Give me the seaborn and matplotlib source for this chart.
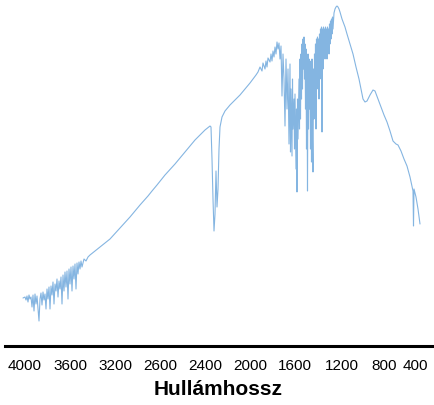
import matplotlib
matplotlib.use("Agg")
import matplotlib.pyplot as plt
import seaborn as sns

# Spectrum: position along the axis and signal depth (from top)
position = [
    23, 25, 26, 27, 28, 29, 30, 31, 32, 33, 34, 35, 36, 37, 38, 39, 40, 41, 42, 43,
    44, 45, 46, 47, 48, 49, 50, 51, 52, 53, 54, 55, 56, 57, 58, 59, 60, 61, 62, 63,
    64, 65, 66, 67, 68, 69, 70, 71, 72, 73, 74, 75, 76, 77, 78, 79, 80, 81, 82, 84,
    86, 88, 90, 95, 100,
    110, 120, 130, 140, 148, 152, 157, 165, 175, 185, 195, 205, 210,
    211, 212, 213, 214, 215, 216, 217, 218, 219, 220, 222, 225, 230, 235, 240, 245,
    250, 253, 256, 258, 260, 262, 263, 265, 266, 267, 268, 270, 271, 272, 273, 274,
    275, 276, 277, 278, 279, 280, 281, 282, 283, 284, 285, 286, 287, 288, 289, 290,
    290.5, 291, 292, 292.5, 293, 294, 294.5, 295, 296, 296.5, 297, 297.5, 298, 299,
    299.5, 300, 300.5, 301, 301.5, 302, 302.5, 303, 303.5, 304, 304.5, 305, 305.5,
    306, 306.5, 307, 307.5, 308, 308.5, 309, 309.5, 310, 310.5, 311, 311.5, 312,
    312.5, 313, 313.5, 314, 314.5, 315, 315.5, 316, 316.5, 317, 317.5, 318, 318.5,
    319, 319.5, 320, 320.5, 321, 321.5, 322, 322.5, 323, 323.5, 324, 324.5, 325,
    325.5, 326, 326.5, 327, 327.5, 328, 328.5, 329, 329.5, 330, 330.5, 331, 331.5,
    332, 332.5, 333, 334, 335, 336, 337, 338, 339, 340, 342, 345, 347, 350, 353,
    356, 359, 361, 363, 365, 367, 370, 373, 375, 378, 381, 384, 387, 390, 393, 396,
    398, 401, 404, 407, 410, 412, 413, 413.5, 414, 416, 418, 420,
]
depth = [
    299, 298, 301, 297, 303, 296, 300, 298, 308, 296, 312, 295, 305, 297, 310, 322, 300, 294, 306, 293,
    301, 295, 310, 290, 300, 288, 310, 287, 296, 283, 305, 285, 292, 280, 298, 282, 290, 278, 305, 276,
    292, 273, 288, 272, 300, 270, 285, 268, 292, 267, 280, 265, 290, 264, 275, 263, 270, 262, 268, 260,
    262, 258, 256, 252, 248,
    240, 229, 218, 206, 197, 192, 186, 176, 165, 153, 141, 131, 127,
    128, 160, 200, 232, 215, 172, 208, 190, 150, 128, 118, 112, 106, 101, 96, 90,
    84, 80, 76, 73, 68, 72, 64, 70, 62, 68, 59, 63, 55, 62, 52, 58,
    48, 55, 43, 50, 44, 60, 47, 97, 55, 80, 127, 60, 110, 70, 145, 65,
    153, 90, 157, 80, 130, 100, 150, 95, 170, 110, 193, 100, 140, 80,
    130, 60, 120, 55, 100, 45, 90, 40, 70, 38, 80, 45, 110,
    50, 150, 60, 192, 55, 130, 60, 110, 62, 150, 70, 163, 60,
    140, 173, 70, 120, 55, 100, 45, 130, 40, 90, 38, 70, 40,
    100, 35, 80, 30, 60, 28, 133, 30, 70, 28, 55, 30, 60,
    28, 50, 30, 60, 28, 45, 30, 55, 25, 45, 22, 40, 20,
    35, 18, 30, 14, 10, 8, 7, 8, 10, 13, 20, 28, 35, 45, 55,
    68, 80, 90, 100, 103, 102, 96, 91, 92, 100, 108, 116, 123, 132, 142, 145,
    146, 152, 160, 167, 178, 187, 192, 227, 190, 198, 210, 225,
]

tick_pos = [25, 70, 115, 160, 205, 250, 295, 342, 384, 415]
tick_labels = ["4000", "3600", "3200", "2600", "2400", "2000", "1600", "1200", "800", "400"]

sns.set_theme(style="white")
plt.rcParams["font.family"] = ["Liberation Sans", "DejaVu Sans"]

fig = plt.figure(figsize=(4.35, 4.06), dpi=100)
ax = fig.add_axes([5 / 435, 1 - 347 / 406, 427 / 435, 347 / 406])

sns.lineplot(x=position, y=depth, sort=False, estimator=None,
             color="#6fa8dc", linewidth=0.8, alpha=0.85, ax=ax)

ax.set_xlim(5, 432)
ax.set_ylim(347, 0)
for side in ["left", "right", "top"]:
    ax.spines[side].set_visible(False)
ax.spines["bottom"].set_color("black")
ax.spines["bottom"].set_linewidth(2.2)

ax.set_xticks(tick_pos)
ax.set_xticklabels(tick_labels, fontsize=11, color="black")
ax.tick_params(axis="x", length=0, pad=9)
ax.set_yticks([])
ax.set_ylabel("")
ax.set_xlabel("Hullámhossz", fontsize=15, fontweight="bold", color="black", labelpad=5)

fig.savefig("out.png", dpi=100)
